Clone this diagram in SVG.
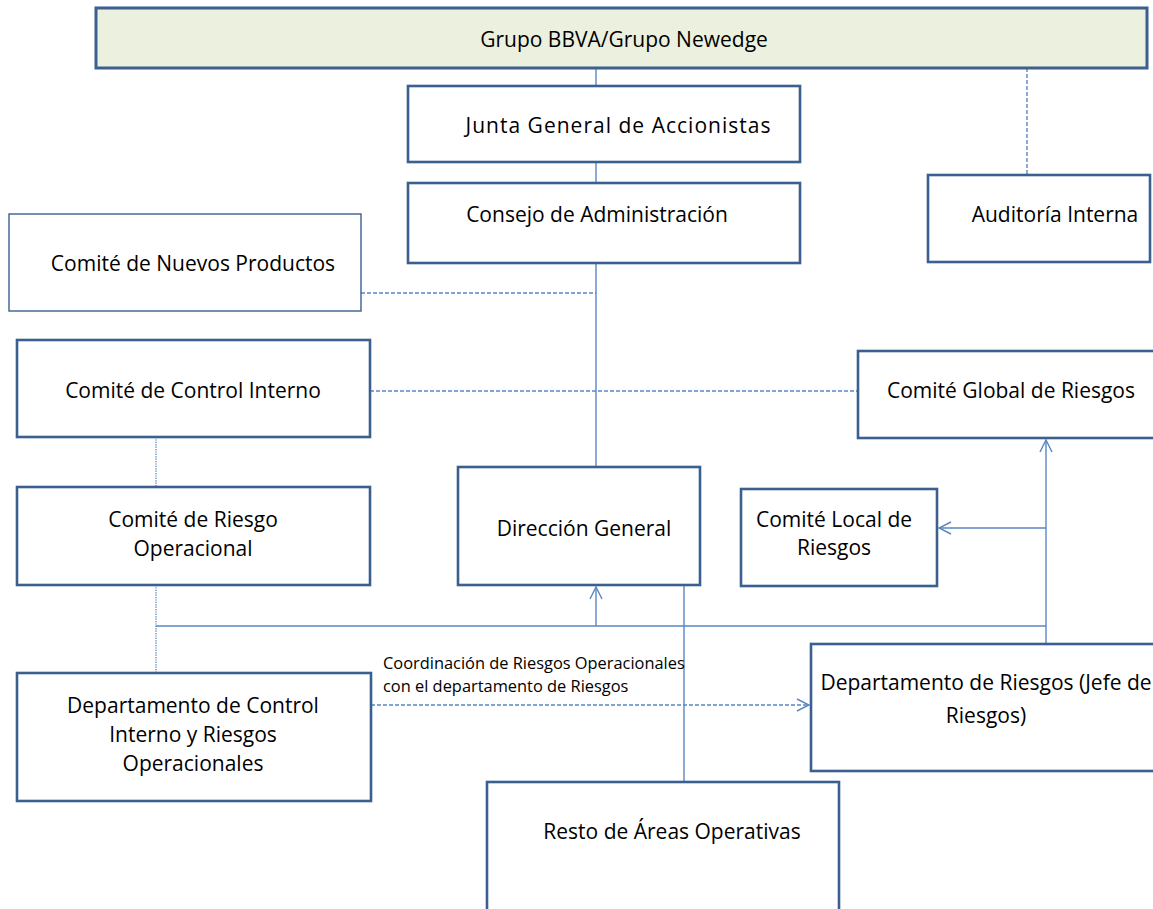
<svg xmlns="http://www.w3.org/2000/svg" width="1153" height="909" viewBox="0 0 1153 909">
<style>
.box{fill:#fff;stroke:#3B5F8F;stroke-width:2.6}
.thin{fill:#fff;stroke:#3B5F8F;stroke-width:1.4}
.ban{fill:#EBF0DF;stroke:#3B5F8F;stroke-width:3}
.t{font-family:"Open Sans","Liberation Sans",sans-serif;font-size:21px;fill:#000;text-anchor:middle}
.s{font-family:"Open Sans","Liberation Sans",sans-serif;font-size:16.4px;fill:#000}
.c{fill:none;stroke:#5A86C3;stroke-width:1.4}
.d{stroke-dasharray:4 2}
.o{stroke-dasharray:1.2 1.2}
</style>
<defs>
<marker id="arr" viewBox="0 0 14 14" refX="13" refY="7" markerWidth="14" markerHeight="14" markerUnits="userSpaceOnUse" orient="auto">
<path d="M1,1 L13,7 L1,13" fill="none" stroke="#5A86C3" stroke-width="1.4"/>
</marker>
</defs>
<g id="connectors">
<line class="c" x1="596" y1="68" x2="596" y2="86"/>
<line class="c" x1="596" y1="162" x2="596" y2="183"/>
<line class="c d" x1="1027" y1="68" x2="1027" y2="175"/>
<line class="c" x1="596" y1="263" x2="596" y2="467"/>
<line class="c d" x1="361" y1="293" x2="596" y2="293"/>
<line class="c d" x1="370" y1="391" x2="858" y2="391"/>
<line class="c o" x1="156" y1="437" x2="156" y2="487"/>
<line class="c o" x1="156" y1="585" x2="156" y2="673"/>
<line class="c" x1="156" y1="626" x2="1046" y2="626"/>
<line class="c" x1="596" y1="626" x2="596" y2="587" marker-end="url(#arr)"/>
<line class="c" x1="684" y1="585" x2="684" y2="781"/>
<line class="c" x1="1046" y1="644" x2="1046" y2="440" marker-end="url(#arr)"/>
<line class="c" x1="1046" y1="528" x2="939" y2="528" marker-end="url(#arr)"/>
<line class="c d" x1="371" y1="705" x2="809" y2="705" marker-end="url(#arr)"/>
<text class="s" x="383" y="669">Coordinación de Riesgos Operacionales</text>
<text class="s" x="383" y="692">con el departamento de Riesgos</text>
</g>
<g id="grupo">
<rect class="ban" x="96" y="8" width="1051" height="60"/>
<text class="t" x="624" y="47">Grupo BBVA/Grupo Newedge</text>
</g>
<g id="junta">
<rect class="box" x="408" y="86" width="392" height="76"/>
<text class="t" x="618" y="133" textLength="305" lengthAdjust="spacing">Junta General de Accionistas</text>
</g>
<g id="consejo">
<rect class="box" x="408" y="183" width="392" height="80"/>
<text class="t" x="597" y="222">Consejo de Administración</text>
</g>
<g id="auditoria">
<rect class="box" x="928" y="175" width="222" height="87"/>
<text class="t" x="1055" y="222">Auditoría Interna</text>
</g>
<g id="nuevos">
<rect class="thin" x="9" y="214" width="352" height="97"/>
<text class="t" x="193" y="271">Comité de Nuevos Productos</text>
</g>
<g id="control-interno">
<rect class="box" x="17" y="340" width="353" height="97"/>
<text class="t" x="193" y="398">Comité de Control Interno</text>
</g>
<g id="global">
<rect class="box" x="858" y="351" width="310" height="87"/>
<text class="t" x="1011" y="398">Comité Global de Riesgos</text>
</g>
<g id="riesgo-operacional">
<rect class="box" x="17" y="487" width="353" height="98"/>
<text class="t" x="193" y="527">Comité de Riesgo</text>
<text class="t" x="193" y="556">Operacional</text>
</g>
<g id="direccion">
<rect class="box" x="458" y="467" width="242" height="118"/>
<text class="t" x="584" y="536">Dirección General</text>
</g>
<g id="local">
<rect class="box" x="741" y="489" width="196" height="97"/>
<text class="t" x="834" y="527">Comité Local de</text>
<text class="t" x="834" y="555">Riesgos</text>
</g>
<g id="dep-riesgos">
<rect class="box" x="811" y="644" width="360" height="127"/>
<text class="t" x="986" y="690">Departamento de Riesgos (Jefe de</text>
<text class="t" x="986" y="723">Riesgos)</text>
</g>
<g id="dep-control">
<rect class="box" x="17" y="673" width="354" height="128"/>
<text class="t" x="193" y="713">Departamento de Control</text>
<text class="t" x="193" y="742">Interno y Riesgos</text>
<text class="t" x="193" y="771">Operacionales</text>
</g>
<g id="resto">
<rect class="box" x="487" y="782" width="352" height="140"/>
<text class="t" x="672" y="839">Resto de Áreas Operativas</text>
</g>
</svg>
